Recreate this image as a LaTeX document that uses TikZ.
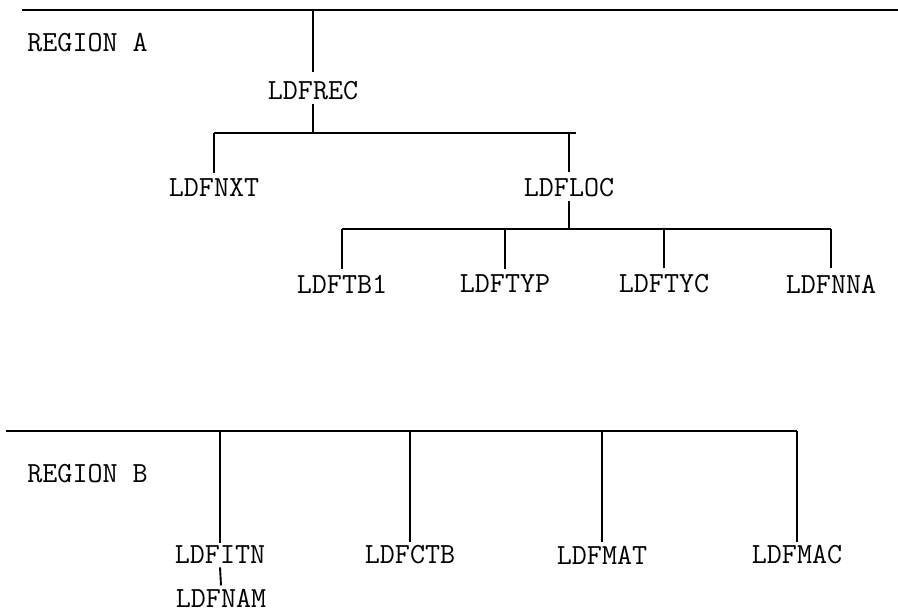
\documentclass[tikz,border=0pt]{standalone}
\usepackage{tikz}
\usetikzlibrary{positioning, calc}

\begin{document}
\begin{tikzpicture}[x=0.5pt, y=-0.5pt,
    wire/.style={line width=0.95pt, black},
    lbl/.style={font=\ttfamily\fontsize{14.6}{16}\selectfont, inner sep=1.5pt, text=black}]
  \useasboundingbox (0,0) rectangle (898,614);
  % region A
  \coordinate (a0) at (22,10); \coordinate (a1) at (898,10);
  \draw[wire] (a0) -- (a1);
  \node[lbl, anchor=west] (regA) at (24,43) {REGION A};
  \node[lbl] (rec) at (313,91) {LDFREC};
  \draw[wire] ([yshift=3pt]rec.north) -- (rec.north |- a0);
  \coordinate (b1l) at (214,133); \coordinate (b1r) at (576,133);
  \draw[wire] (rec.south) -- (rec.south |- b1l);
  \draw[wire] (b1l) -- (b1r);
  \node[lbl] (nxt) at (214,188) {LDFNXT};
  \node[lbl] (loc) at (569,188) {LDFLOC};
  \foreach \n in {nxt,loc}{\draw[wire] ([yshift=1.5pt]\n.north) -- (\n.north |- b1l);}
  \coordinate (b2l) at (342,229); \coordinate (b2r) at (831,229);
  \draw[wire] (loc.south) -- (loc.south |- b2l);
  \draw[wire] (b2l) -- (b2r);
  \foreach \n/\x/\t in {tb1/342/LDFTB1, typ/505/LDFTYP, tyc/664/LDFTYC, nna/831/LDFNNA}{
     \node[lbl] (\n) at (\x,284) {\t};
     \draw[wire] ([yshift=1.5pt]\n.north) -- (\n.north |- b2l);}
  % region B
  \coordinate (c0) at (6,431); \coordinate (c1) at (797,431);
  \draw[wire] (c0) -- (c1);
  \node[lbl, anchor=west] (regB) at (24,474) {REGION B};
  \foreach \n/\x/\t in {itn/220/LDFITN, ctb/410/LDFCTB, mat/602/LDFMAT, mac/797/LDFMAC}{
     \node[lbl] (\n) at (\x,555) {\t};
     \draw[wire] (\n.north) -- (\n.north |- c0);}
  \node[lbl] (nam) at (221,598) {LDFNAM};
  \draw[wire] (itn.south) -- (nam.north);
\end{tikzpicture}
\end{document}
